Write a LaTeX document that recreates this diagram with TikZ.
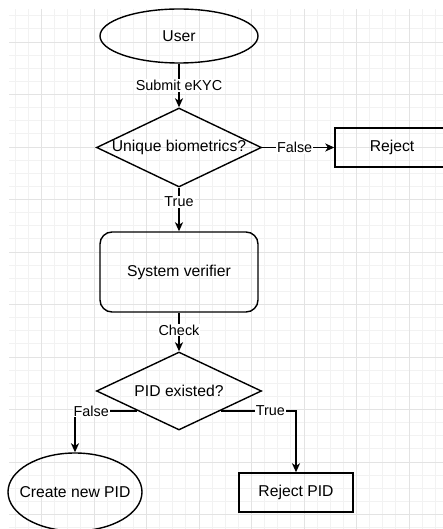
\documentclass[tikz,border=0pt]{standalone}
\usepackage{fontspec}
\setmainfont{Liberation Sans}
\usetikzlibrary{arrows.meta,shapes.geometric}

\begin{document}
\begin{tikzpicture}[x=1pt,y=-1pt,line width=1.4pt,>={Stealth[length=9pt,width=8pt,inset=2.5pt]},
  txt/.style={font=\fontsize{15.7}{18}\selectfont,inner sep=0},
  lbl/.style={fill=white,inner sep=1pt,font=\fontsize{14.4}{16}\selectfont},
  oval/.style={draw,ellipse,txt},
  box/.style={draw,rectangle,minimum width=114,minimum height=39,txt},
  ask/.style={draw,diamond,minimum width=165,minimum height=78,txt}]
\useasboundingbox (0,0) rectangle (443,529);
\begin{scope}[line width=0.9pt]
\clip (9,9) rectangle (443,529);
\foreach \i in {-2,...,30} \draw[black!5] ({41.5+13.125*\i},9) -- ++(0,520);
\foreach \i in {-2,...,37} \draw[black!5] (9,{42+13.125*\i}) -- ++(434,0);
\foreach \i in {0,...,7} \draw[black!11] ({41.5+52.5*\i},9) -- ++(0,520);
\foreach \i in {0,...,9} \draw[black!11] (9,{42+52.5*\i}) -- ++(434,0);
\end{scope}

\node[oval,minimum width=158,minimum height=54] (a) at (179,36) {User};
\node[ask,minimum height=79] (b) at (179,147.5) {\makebox[0pt]{Unique biometrics?}};
\node[box] (c) at (392,147.5) {Reject};
\node[draw,rounded corners=12pt,minimum width=158,minimum height=80,txt] (d) at (179,272) {System verifier};
\node[ask] (e) at (179,391) {\makebox[0pt]{PID existed?}};
\node[oval,minimum width=134,minimum height=78] (f) at (75,492) {\makebox[0pt]{Create new PID}};
\node[box] (g) at (296,492.5) {Reject PID};

\path
(a) edge[->] node[lbl] {Submit eKYC} (b)
(b) edge[->] node[lbl,pos=0.45] {False} (c)
(b) edge[->] node[lbl,pos=0.33] {True} (d)
(d) edge[->] node[lbl,pos=0.45] {Check} (e);
\draw[->] (e.south west) -| node[lbl,pos=0.37] {False} (f);
\draw[->] (e.south east) -| node[lbl,pos=0.33] {True} (g);
\end{tikzpicture}
\end{document}
